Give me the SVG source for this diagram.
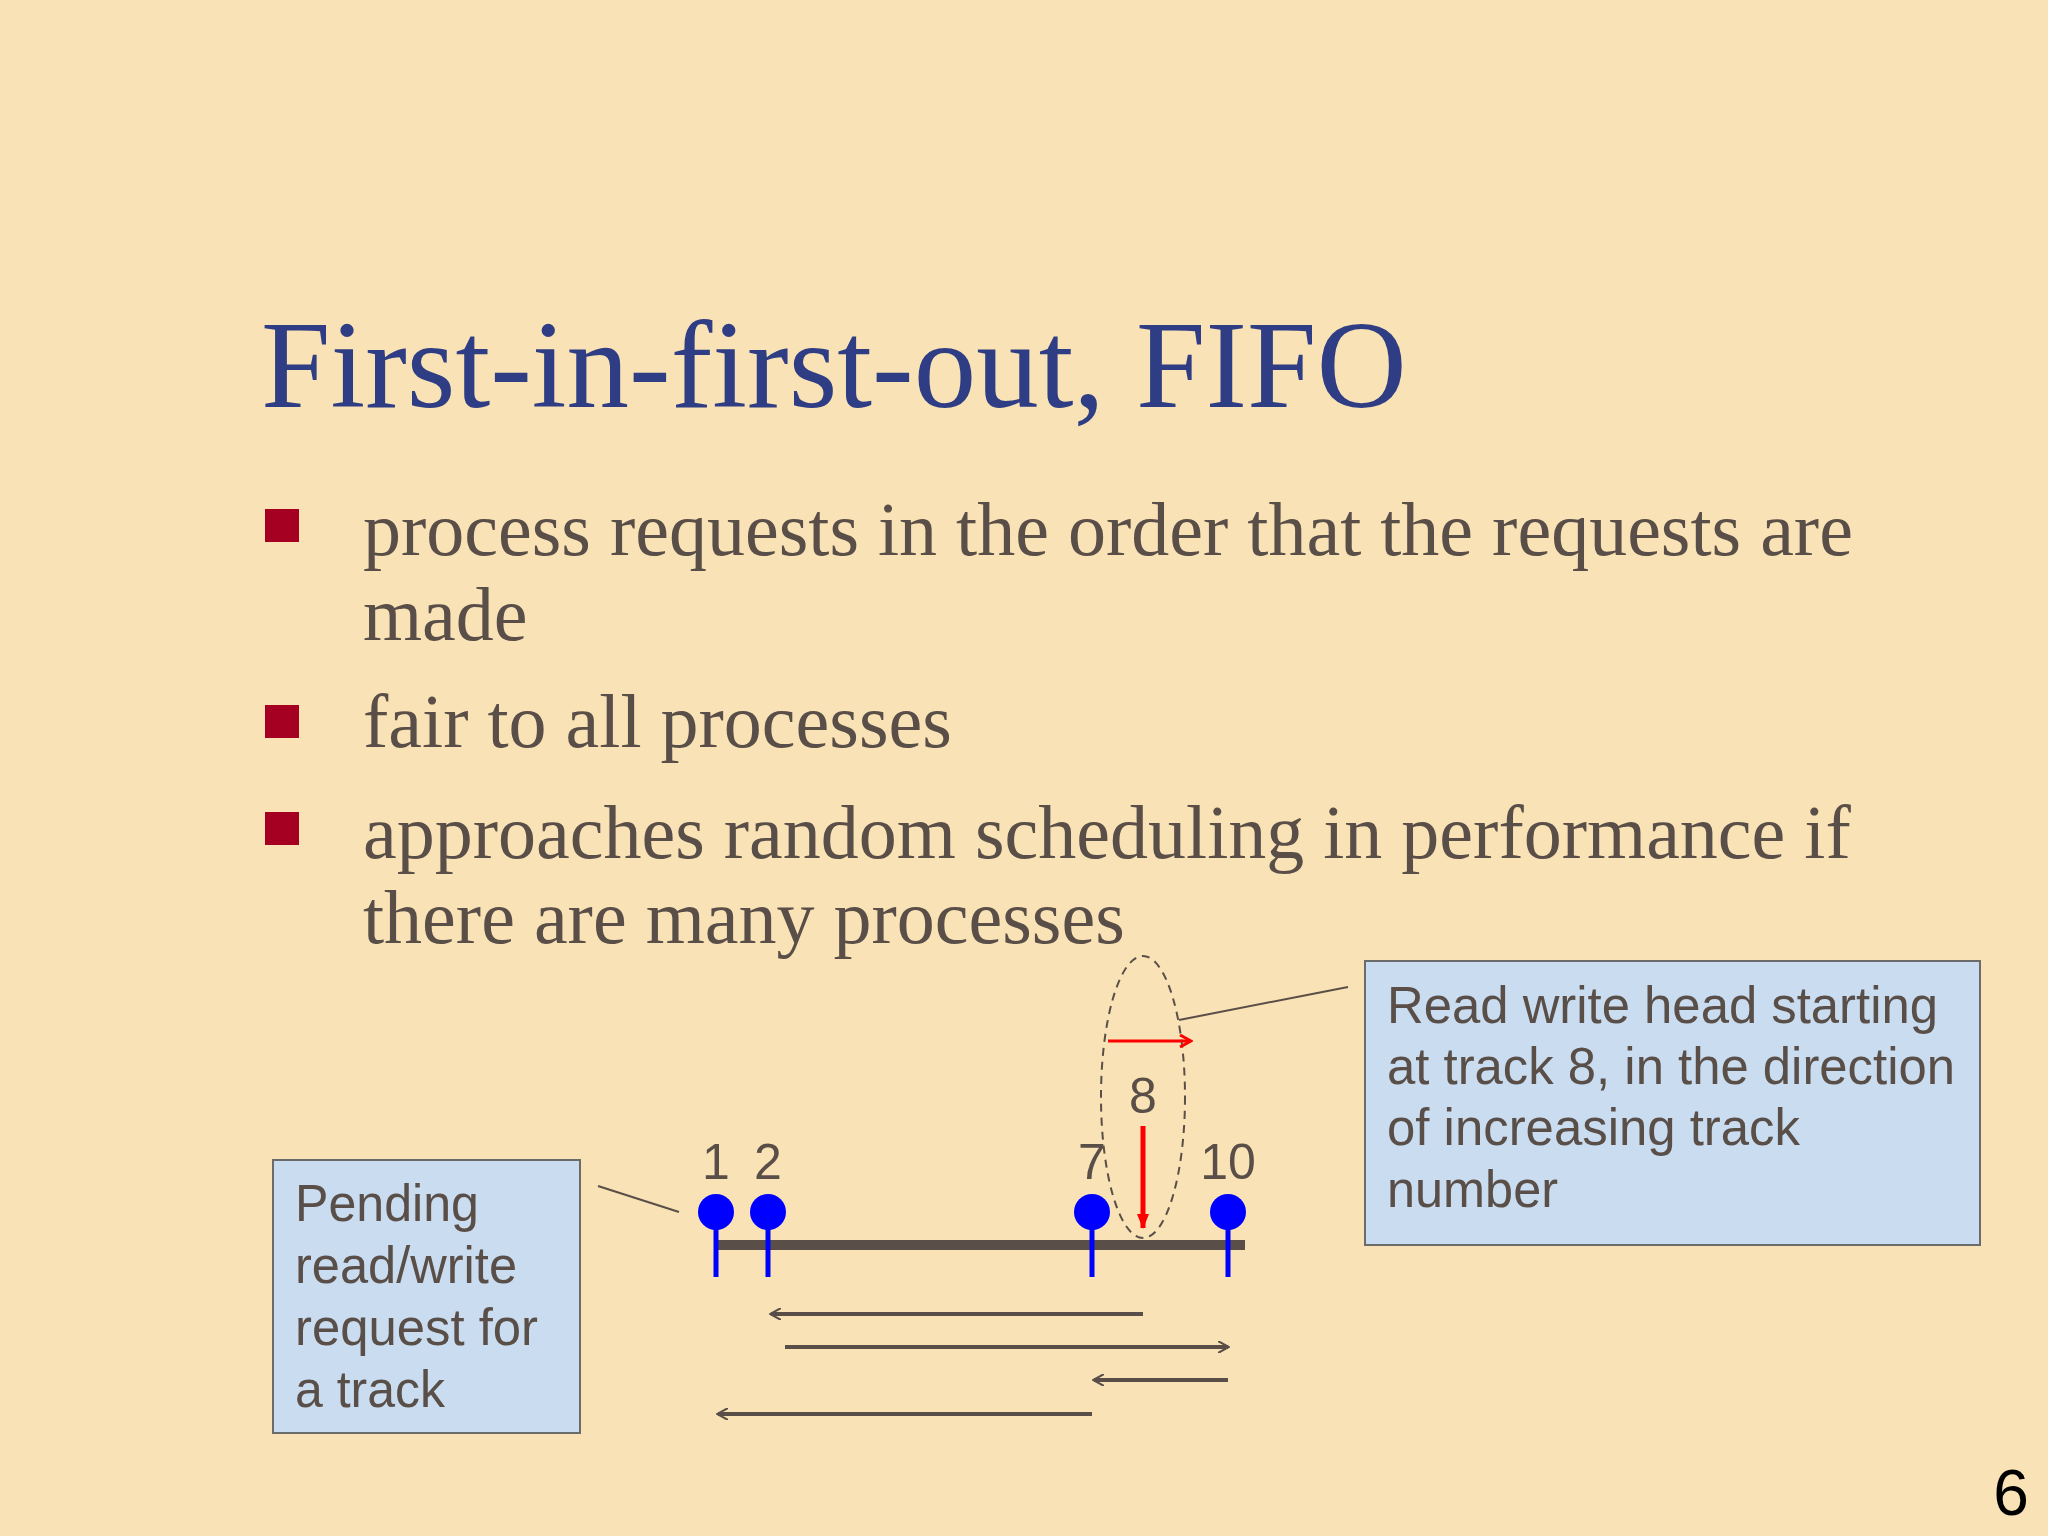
<svg xmlns="http://www.w3.org/2000/svg" width="2048" height="1536" viewBox="0 0 2048 1536">
<style>
.title{font-family:"Liberation Serif",serif;font-size:125px;fill:#2E3D84}
.body{font-family:"Liberation Serif",serif;font-size:76px;fill:#5A4F48}
.lbl{font-family:"Liberation Sans",sans-serif;font-size:50px;fill:#5A4F48;text-anchor:middle}
.box{font-family:"Liberation Sans",sans-serif;font-size:52px;fill:#5A4F48}
.bul{fill:#A50021}
.pin{stroke:#0000FF;stroke-width:5}
.arr{stroke:#5A4F48;stroke-width:4;fill:none}
.call{stroke:#5A4F48;stroke-width:2;fill:none}
</style>
<defs>
<marker id="open" markerWidth="12" markerHeight="12" refX="10" refY="6" orient="auto" markerUnits="userSpaceOnUse" viewBox="0 0 12 12">
<path d="M0,0 L11,6 L0,12" fill="none" stroke="#5A4F48" stroke-width="2"/>
</marker>
<marker id="openR" markerWidth="14" markerHeight="14" refX="12" refY="7" orient="auto" markerUnits="userSpaceOnUse" viewBox="0 0 14 14">
<path d="M1,1 L12,7 L1,13" fill="none" stroke="#FF0000" stroke-width="3"/>
</marker>
<marker id="fillR" markerWidth="16" markerHeight="16" refX="14" refY="8" orient="auto" markerUnits="userSpaceOnUse" viewBox="0 0 16 16">
<path d="M0,2 L15,8 L0,14 Z" fill="#FF0000"/>
</marker>
</defs>
<rect width="2048" height="1536" fill="#F9E2B5"/>
<text class="title" x="261" y="407">First-in-first-out, FIFO</text>
<rect class="bul" x="265" y="509" width="34" height="33"/>
<rect class="bul" x="265" y="705" width="34" height="33"/>
<rect class="bul" x="265" y="812" width="34" height="33"/>
<text class="body" x="363" y="555">process requests in the order that the requests are</text>
<text class="body" x="363" y="640">made</text>
<text class="body" x="363" y="747">fair to all processes</text>
<text class="body" x="363" y="858">approaches random scheduling in performance if</text>
<text class="body" x="363" y="943">there are many processes</text>
<g id="track">
<line x1="716" y1="1245" x2="1245" y2="1245" stroke="#5A4F48" stroke-width="10"/>
</g>
<g id="pin1"><line class="pin" x1="716" y1="1212" x2="716" y2="1277"/><circle cx="716" cy="1212" r="18" fill="#0000FF"/><text class="lbl" x="716" y="1179">1</text></g>
<g id="pin2"><line class="pin" x1="768" y1="1212" x2="768" y2="1277"/><circle cx="768" cy="1212" r="18" fill="#0000FF"/><text class="lbl" x="768" y="1179">2</text></g>
<g id="pin7"><line class="pin" x1="1092" y1="1212" x2="1092" y2="1277"/><circle cx="1092" cy="1212" r="18" fill="#0000FF"/><text class="lbl" x="1092" y="1179">7</text></g>
<g id="pin10"><line class="pin" x1="1228" y1="1212" x2="1228" y2="1277"/><circle cx="1228" cy="1212" r="18" fill="#0000FF"/><text class="lbl" x="1228" y="1179">10</text></g>
<g id="head">
<ellipse cx="1143" cy="1097" rx="42" ry="141" fill="none" stroke="#5A4F48" stroke-width="2" stroke-dasharray="8,6"/>
<text class="lbl" x="1143" y="1113">8</text>
<line x1="1143" y1="1126" x2="1143" y2="1228" stroke="#FF0000" stroke-width="5" marker-end="url(#fillR)"/>
<line x1="1108" y1="1041" x2="1191" y2="1041" stroke="#FF0000" stroke-width="3" marker-end="url(#openR)"/>
</g>
<g id="note-right">
<rect x="1365" y="961" width="615" height="284" fill="#C9DCF0" stroke="#6B6B6B" stroke-width="2"/>
<text class="box" x="1387" y="1023" textLength="551" lengthAdjust="spacingAndGlyphs">Read write head starting</text>
<text class="box" x="1387" y="1084" textLength="568" lengthAdjust="spacingAndGlyphs">at track 8, in the direction</text>
<text class="box" x="1387" y="1145" textLength="413" lengthAdjust="spacingAndGlyphs">of increasing track</text>
<text class="box" x="1387" y="1207" textLength="171" lengthAdjust="spacingAndGlyphs">number</text>
</g>
<g id="note-left">
<rect x="273" y="1160" width="307" height="273" fill="#C9DCF0" stroke="#6B6B6B" stroke-width="2"/>
<text class="box" x="295" y="1221" textLength="184" lengthAdjust="spacingAndGlyphs">Pending</text>
<text class="box" x="295" y="1283" textLength="222" lengthAdjust="spacingAndGlyphs">read/write</text>
<text class="box" x="295" y="1345" textLength="243" lengthAdjust="spacingAndGlyphs">request for</text>
<text class="box" x="295" y="1407" textLength="150" lengthAdjust="spacingAndGlyphs">a track</text>
</g>
<g id="connectors">
<line class="call" x1="1179" y1="1020" x2="1348" y2="987"/>
<line class="call" x1="598" y1="1186" x2="679" y2="1212"/>
<line class="arr" x1="1143" y1="1314" x2="771" y2="1314" marker-end="url(#open)"/>
<line class="arr" x1="785" y1="1347" x2="1228" y2="1347" marker-end="url(#open)"/>
<line class="arr" x1="1228" y1="1380" x2="1094" y2="1380" marker-end="url(#open)"/>
<line class="arr" x1="1092" y1="1414" x2="718" y2="1414" marker-end="url(#open)"/>
</g>
<text x="2011" y="1515" font-family="Liberation Sans,sans-serif" font-size="64" text-anchor="middle" fill="#000">6</text>
</svg>
